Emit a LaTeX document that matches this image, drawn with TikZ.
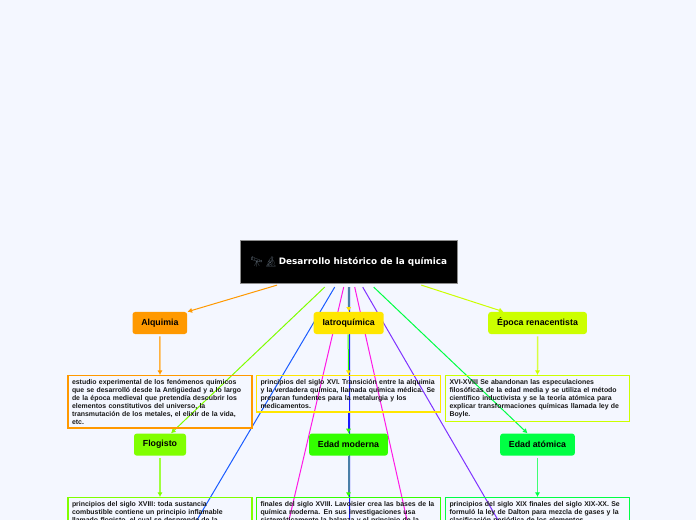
\documentclass[tikz,border=0pt]{standalone}
\usepackage{fontspec}
\setmainfont{Liberation Sans}
\newfontfamily\titlefont{DejaVu Sans}
\newfontfamily\emojifont{Noto Emoji}
\usetikzlibrary{arrows.meta,calc,positioning,backgrounds}
\definecolor{pagebg}{HTML}{F4F7FF}
\definecolor{alqcol}{HTML}{FF9900}
\definecolor{iatcol}{HTML}{FFE600}
\definecolor{renacol}{HTML}{CCFF00}
\definecolor{flocol}{HTML}{80FF00}
\definecolor{modcol}{HTML}{33FF00}
\definecolor{atomcol}{HTML}{00FF44}
\definecolor{bluecol}{HTML}{1A5CFF}
\definecolor{midblue}{HTML}{1A1AFF}
\definecolor{magcol}{HTML}{FF1AE6}
\definecolor{purcol}{HTML}{8033FF}
\definecolor{midcol}{HTML}{4A7FA8}
\definecolor{emojicol}{HTML}{505A64}
\tikzset{>=Latex}
\tikzset{
  rootbox/.style={draw=black!45, fill=black, text=white, minimum width=162.5pt, minimum height=32pt, inner sep=0pt, font=\titlefont\bfseries\fontsize{6.65}{9}\selectfont},
  topic/.style={rounded corners=2pt, fill=#1, text=black, minimum height=16.5pt, inner sep=0pt, font=\bfseries\fontsize{6.6}{8}\selectfont},
  note/.style={draw=#1, line width=0.8pt, text=black!90, text width=132pt, inner xsep=3pt, inner ysep=2.75pt, align=left, font=\bfseries\fontsize{5.2}{6}\selectfont},
  arrow/.style={-{Latex[length=3.5pt,width=4pt]}, line width=0.75pt, draw=#1},
  softarrow/.style={line width=1.1pt, draw=#1!75, arrows={-{Latex[length=3.5pt,width=4pt,color=#1]}}},
  plainline/.style={line width=0.75pt, draw=#1},
}
\begin{document}
\begin{tikzpicture}[x=0.75pt,y=-0.75pt]
\useasboundingbox (0,0) rectangle (696,520);
\clip (0,0) rectangle (696,520);

\node[rootbox] (root) at (348.7,261.5) {\smash{\raisebox{-1pt}{\emojifont\fontsize{7.5}{9}\selectfont\color{emojicol}🔭\,🔬}}\,Desarrollo histórico de la química};

\node[topic=iatcol, minimum width=52.5pt] (iatro) at (348.7,323) {Iatroquímica};
\node[topic=alqcol, minimum width=41pt, left=94.5pt of iatro] (alqui) {Alquimia};
\node[topic=renacol, minimum width=74pt, right=78pt of iatro] (epoca) {Época renacentista};

\node[note=iatcol, anchor=north] (niatro) at (348.5,375) {principios del siglo XVI. Transición entre la alquimia\\y la verdadera química, llamada química médica. Se\\preparan fundentes para la metalurgia y los\\medicamentos.};
\node[note=alqcol, anchor=north] (nalqui) at (160,375) {estudio experimental de los fenómenos químicos\\que se desarrolló desde la Antigüedad y a lo largo\\de la época medieval que pretendía descubrir los\\elementos constitutivos del universo, la\\transmutación de los metales, el elixir de la vida,\\etc.};
\node[note=renacol, anchor=north] (nepoca) at (537.5,375) {XVI-XVIII Se abandonan las especulaciones\\filosóficas de la edad media y se utiliza el método\\científico inductivista y se la teoría atómica para\\explicar transformaciones químicas llamada ley de\\Boyle.};

\node[topic=modcol, minimum width=59pt] (moder) at (348.5,444.6) {Edad moderna};
\node[topic=flocol, minimum width=39pt] (flogi) at (160,444.6) {Flogisto};
\node[topic=atomcol, minimum width=56pt] (atomi) at (537.5,444.6) {Edad atómica};

\node[note=modcol, anchor=north] (nmoder) at (348.5,497) {finales del siglo XVIII. Lavoisier crea las bases de la\\química moderna. En sus investigaciones usa\\sistemáticamente la balanza y el principio de la};
\node[note=flocol, anchor=north] (nflogi) at (160,497) {principios del siglo XVIII: toda sustancia\\combustible contiene un principio inflamable\\llamado flogisto, el cual se desprende de la};
\node[note=atomcol, anchor=north] (natomi) at (537.5,497) {principios del siglo XIX finales del siglo XIX-XX. Se\\formuló la ley de Dalton para mezcla de gases y la\\clasificación periódica de los elementos};

% free ends below the page
\coordinate (bluend) at (197,520);
\coordinate (magleft) at (289,520);
\coordinate (midend) at (349.5,520);
\coordinate (magright) at (407,520);
\coordinate (purend) at (498,520);

\begin{scope}[on background layer]
\fill[pagebg] (0,0) rectangle (696,520);

\draw[plainline=midblue] ($(root.south)+(0.8,4)$) -- (midend);
\draw[softarrow=iatcol, draw=midcol, line width=1.5pt] ($(root.south)+(0.3,4)$) -- (iatro.north);
\draw[softarrow=iatcol, draw=modcol, line width=0.75pt] ($(iatro.south)+(-0.6,0)$) -- (niatro.north);
\draw[softarrow=modcol, draw=midblue, line width=0.75pt] (niatro.south) -- (moder.north);
\draw[softarrow=modcol, draw=midcol, line width=1.5pt] (moder.south) -- (nmoder.north);

\draw[arrow=alqcol] ($(root.south west)+(37,2)$) -- (alqui.north east);
\draw[arrow=renacol] ($(root.south east)+(-36,2)$) -- ($(epoca.north)+(-34,0)$);
\draw[arrow=flocol] ($(root.south)+(-24,4)$) -- ($(flogi.north)+(11,0)$);
\draw[arrow=atomcol] ($(root.south)+(25,4)$) -- ($(atomi.north)+(-10,0)$);
\draw[plainline=bluecol] ($(root.south)+(-14,4)$) -- (bluend);
\draw[plainline=magcol] ($(root.south)+(-5,4)$) -- (magleft);
\draw[plainline=magcol] ($(root.south)+(6,4)$) -- (magright);
\draw[plainline=purcol] ($(root.south)+(14,4)$) -- (purend);

\draw[softarrow=alqcol] (alqui.south) ++(0,2) -- (nalqui.north);
\draw[softarrow=renacol] (epoca.south) ++(0,2) -- (nepoca.north);
\draw[softarrow=flocol] (flogi.south) ++(0,2) -- (nflogi.north);
\draw[softarrow=atomcol] (atomi.south) ++(0,2) -- (natomi.north);
\end{scope}
\end{tikzpicture}
\end{document}
